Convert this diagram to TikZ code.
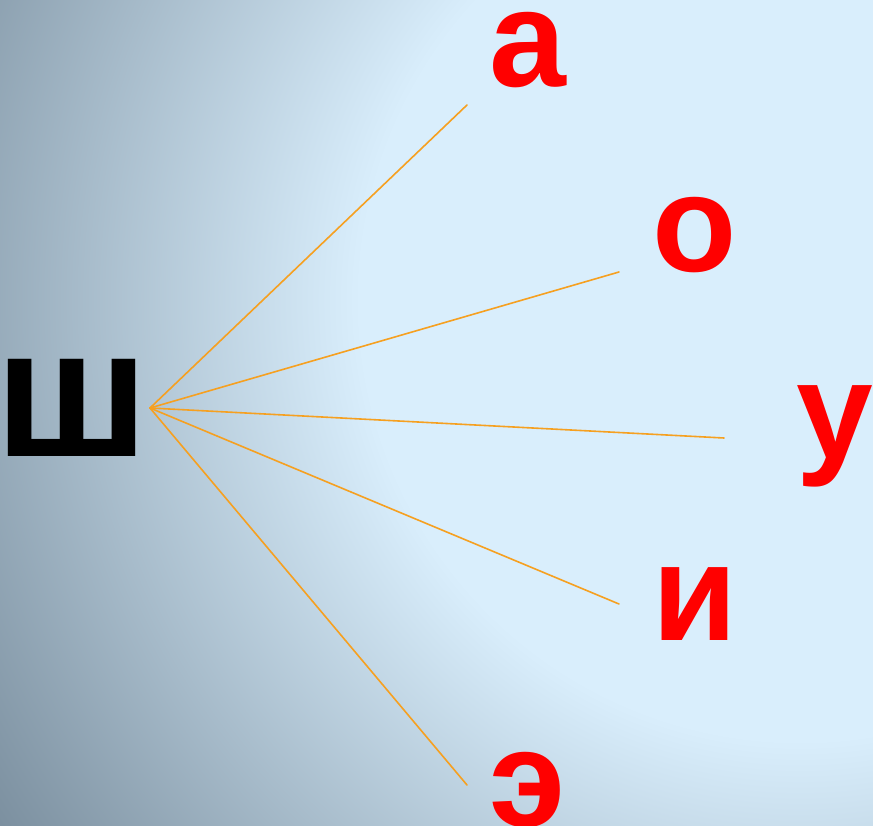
\documentclass[tikz,border=0pt]{standalone}
\usepackage{fontspec}
\setmainfont{Liberation Sans}
\usepackage{tikz}
\usetikzlibrary{positioning}

\definecolor{bglight}{RGB}{217,238,252}
\definecolor{bgdark}{RGB}{116,136,152}
\definecolor{spokeorange}{RGB}{246,160,32}
\pgfdeclareradialshading{bgglow}{\pgfpoint{0bp}{0bp}}{%
  color(0bp)=(bglight); color(11bp)=(bglight); color(25bp)=(bgdark); color(50bp)=(bgdark)}

\newcommand{\bigletter}{\bfseries\fontsize{138}{138}\selectfont}
\newcommand{\hugeletter}{\bfseries\fontsize{184}{184}\selectfont}

\begin{document}
\begin{tikzpicture}[x=1pt, y=-1pt, line cap=round, line join=round]
  \def\W{873}   % picture width
  \def\H{826}   % picture height

  \tikzset{vowel/.style={text=red, font=\bigletter, anchor=base, inner sep=0pt},
           spoke/.style={draw=spokeorange, line width=1.6pt}}

  \useasboundingbox (0,0) rectangle (\W,\H);

  % Background glow
  \begin{scope}
    \clip (0,0) rectangle (\W,\H);
    \shade[shading=bgglow] (800,300) circle[radius=1000];
  \end{scope}

  % Consonant
  \node[font=\hugeletter, anchor=base, inner sep=0pt] (sh) at (72,456) {ш};

  % Vowels
  \node[vowel] (va) at (528,87) {а};
  \node[vowel] (vo) at (695,272) {о};
  \node[vowel] (vu) at (835,458) {у};
  \node[vowel] (vi) at (695,640) {и};
  \node[vowel] (ve) at (528,826) {э};

  % Hub and free ends
  \coordinate (hub) at (150,408);
  \coordinate (ea) at (467,105);
  \coordinate (eo) at (619,272);
  \coordinate (eu) at (724,438);
  \coordinate (ei) at (619,604);
  \coordinate (ee) at (467,785);

  % Spokes
  \draw[spoke] (hub) -- (ea);
  \draw[spoke] (hub) -- (eo);
  \draw[spoke] (hub) -- (eu);
  \draw[spoke] (hub) -- (ei);
  \draw[spoke] (hub) -- (ee);
\end{tikzpicture}
\end{document}
